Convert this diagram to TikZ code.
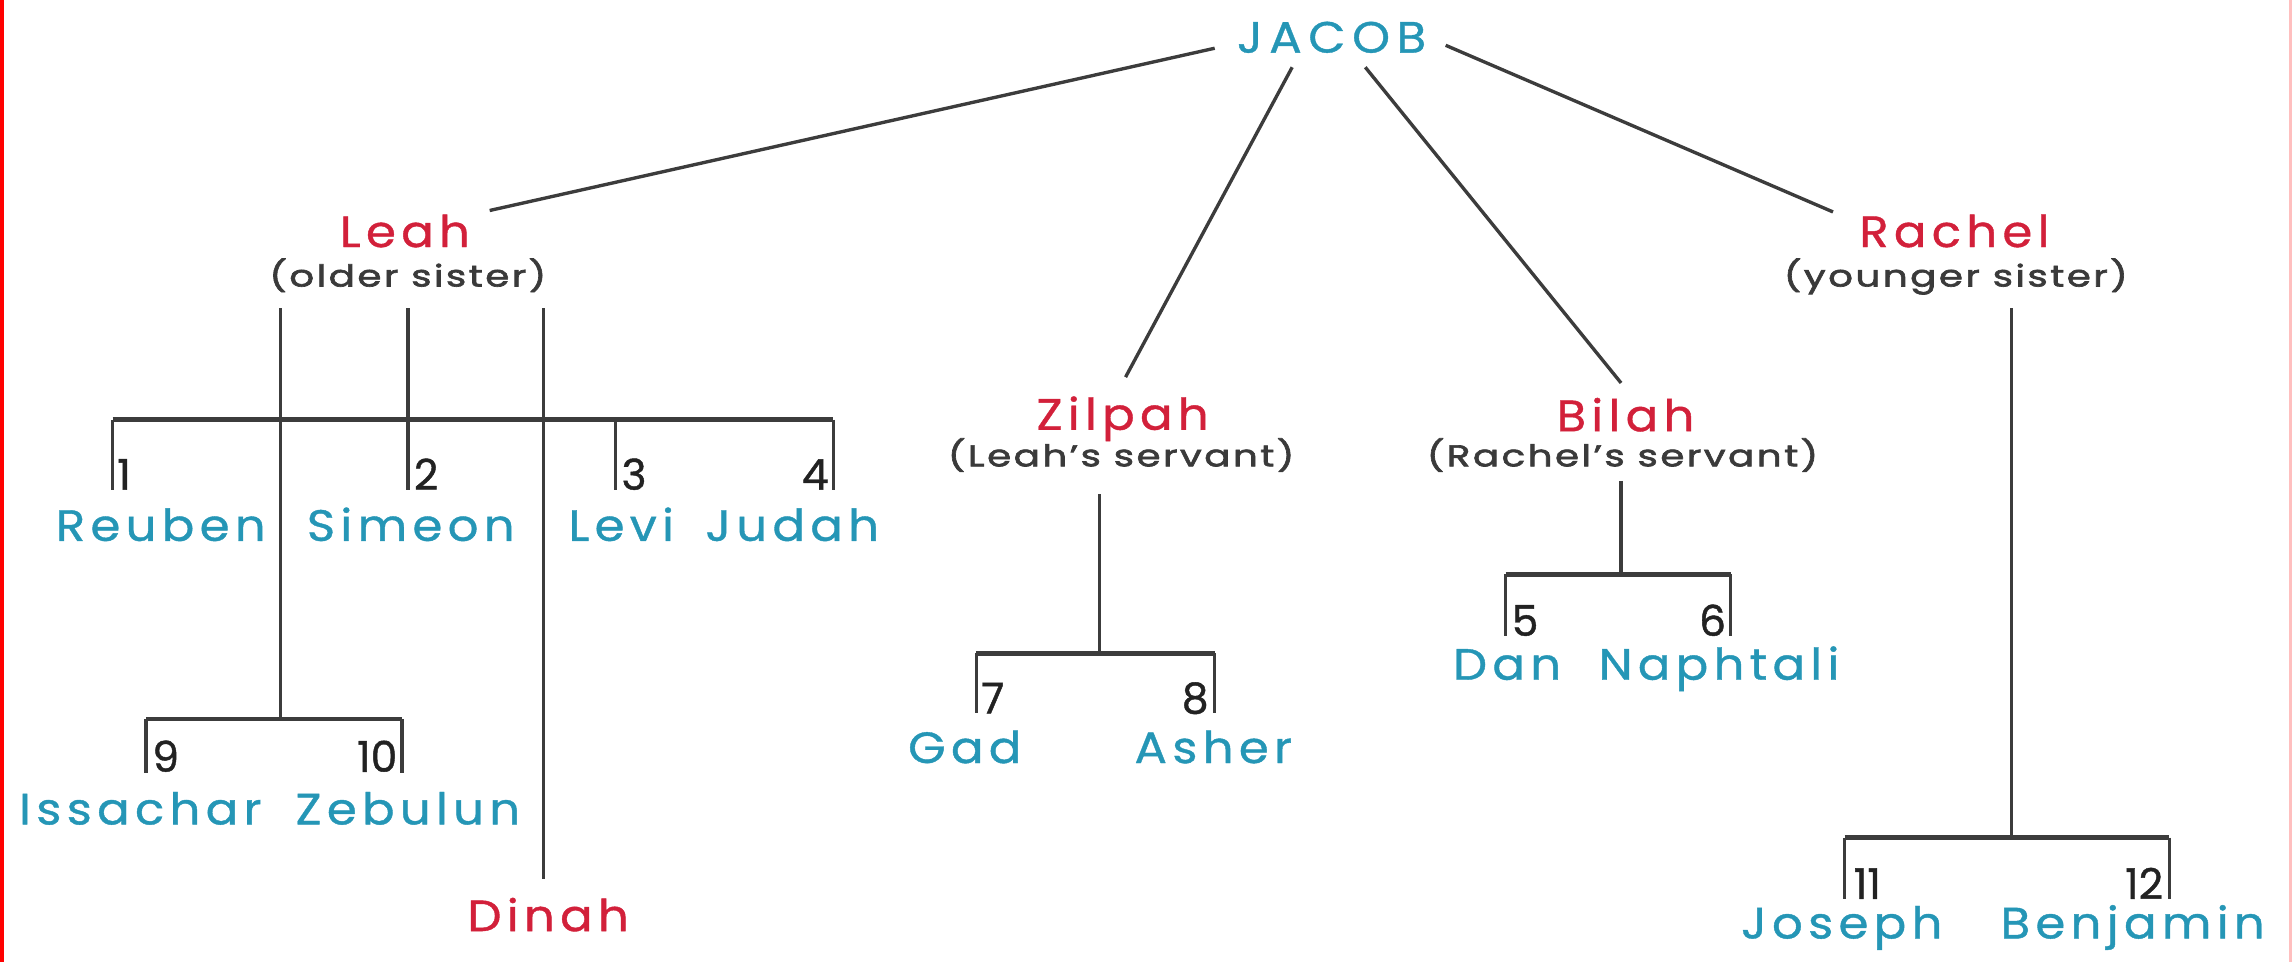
\documentclass[tikz,border=0pt]{standalone}
\usepackage{fontspec}
\setmainfont{Poppins}
\newfontfamily\namefont[LetterSpace=12,FakeStretch=1.1,FakeBold=0.9]{Poppins}
\newfontfamily\capsfont[LetterSpace=15,FakeStretch=1.1,FakeBold=0.9]{Poppins}
\newfontfamily\subfont[LetterSpace=8,FakeStretch=1.3,FakeBold=2.2]{Poppins}
\newfontfamily\numfont[FakeBold=1]{Poppins}
\definecolor{jteal}{HTML}{2596B6}
\definecolor{jred}{HTML}{D2203A}
\definecolor{jline}{HTML}{3C3C3C}
\definecolor{jsub}{HTML}{3A3A3A}
\definecolor{jnum}{HTML}{222222}
\tikzset{
  person/.style={font=\namefont\fontsize{30}{34}\selectfont, text=jteal, anchor=base, inner sep=0pt},
  head/.style={person, font=\capsfont\fontsize{30}{34}\selectfont},
  wife/.style={person, text=jred},
  subline/.style={font=\subfont\fontsize{20.5}{24}\selectfont, text=jsub, anchor=base, inner sep=0pt},
  numl/.style={font=\numfont\fontsize{29}{33}\selectfont, text=jnum, anchor=base west, inner sep=0pt},
  numr/.style={numl, anchor=base east},
  link/.style={draw=jline, line width=2.3pt},
  bar/.style={draw=jline, line width=3pt},
}
\begin{document}
\begin{tikzpicture}[x=1pt,y=-1pt]
\useasboundingbox (0,0) rectangle (1568,658);
\fill[red] (0,0) rectangle (3,658);
\fill[red!25] (1566,0) rectangle (1568,658);

% parents
\node[head] (jacob) at (911,36) {JACOB};
\node[wife] (leah) at (277,169) {Leah};
\node[subline] (leahs) at (279,196) {(older sister)};
\node[wife] (zilpah) at (768,294) {Zilpah};
\node[subline] (zilpahs) at (767,319) {(Leah’s servant)};
\node[wife] (bilah) at (1112,295) {Bilah};
\node[subline] (bilahs) at (1110,319) {(Rachel’s servant)};
\node[wife] (rachel) at (1337,169) {Rachel};
\node[subline] (rachels) at (1338,196) {(younger sister)};

% children
\node[person] (reuben) at (110,370) {Reuben};
\node[person] (simeon) at (281,370) {Simeon};
\node[person] (levi) at (425,370) {Levi};
\node[person] (judah) at (542,370) {Judah};
\node[person] (issachar) at (96,564) {Issachar};
\node[person] (zebulun) at (279,564) {Zebulun};
\node[wife] (dinah) at (375,637) {Dinah};
\node[person] (gad) at (660,522) {Gad};
\node[person] (asher) at (830,522) {Asher};
\node[person] (dan) at (1031,465) {Dan};
\node[person] (naphtali) at (1176,465) {Naphtali};
\node[person] (joseph) at (1260,642) {Joseph};
\node[person] (benjamin) at (1459,642) {Benjamin};

% numbers
\node[numl] (n1) at (80,335) {1};
\node[numl] (n2) at (283,335) {2};
\node[numl] (n3) at (425,335) {3};
\node[numr] (n4) at (567,335) {4};
\node[numl] (n9) at (104,528) {9};
\node[numr] (n10) at (272,528) {10};
\node[numl] (n7) at (671,488) {7};
\node[numr] (n8) at (827,488) {8};
\node[numl] (n5) at (1034,435) {5};
\node[numr] (n6) at (1181,435) {6};
\node[numl] (n11) at (1268,615) {11};
\node[numr] (n12) at (1480,615) {12};

% bracket corners
\coordinate (la) at (77,287);   \coordinate (lb) at (570,287);
\coordinate (ia) at (100,492);  \coordinate (ib) at (275,492);
\coordinate (ij) at (192,492);
\coordinate (za) at (668,447);  \coordinate (zb) at (831,447);
\coordinate (zj) at (752,447);
\coordinate (ba) at (1030,393); \coordinate (bb) at (1184,393);
\coordinate (bj) at (1109,393);
\coordinate (ra) at (1262,573); \coordinate (rb) at (1484,573);
\coordinate (rj) at (1376,573);

% Jacob to wives
\draw[link] ([shift={(-80,-3)}]jacob.base) -- ([shift={(58,-25)}]leah.base);
\draw[link] ([shift={(-27,10)}]jacob.base) -- ([shift={(2,-36)}]zilpah.base);
\draw[link] ([shift={(23,10)}]jacob.base) -- ([shift={(-3,-33)}]bilah.base);
\draw[link] ([shift={(78,-5)}]jacob.base) -- ([shift={(-83,-24)}]rachel.base);

% Leah's lines
\draw[link] ([shift={(-87,15)}]leahs.base) -- (ij);
\draw[link] ([shift={(0,15)}]leahs.base) -- (279,335);
\draw[link] ([shift={(93,15)}]leahs.base) -- ([shift={(-3,-36)}]dinah.base);
\draw[bar] (la) -- (lb);
\draw[link] (la) -- (77,335);
\draw[link] (421,287) -- (421,335);
\draw[link] (lb) -- (570,335);
\draw[bar] (ia) -- (ib);
\draw[link] (ia) -- (100,529);
\draw[link] (ib) -- (275,529);

% Zilpah
\draw[link] ([shift={(-15,19)}]zilpahs.base) -- (zj);
\draw[bar] (za) -- (zb);
\draw[link] (za) -- (668,488);
\draw[link] (zb) -- (831,488);

% Bilah
\draw[link] ([shift={(-1,10)}]bilahs.base) -- (bj);
\draw[bar] (ba) -- (bb);
\draw[link] (ba) -- (1030,435);
\draw[link] (bb) -- (1184,435);

% Rachel
\draw[link] ([shift={(38,15)}]rachels.base) -- (rj);
\draw[bar] (ra) -- (rb);
\draw[link] (ra) -- (1262,615);
\draw[link] (rb) -- (1484,615);
\end{tikzpicture}
\end{document}
